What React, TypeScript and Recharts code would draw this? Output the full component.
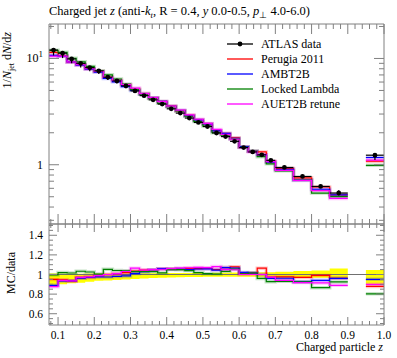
import { ComposedChart, Line, Scatter, ErrorBar, Area, XAxis, YAxis, ReferenceLine } from 'recharts'

const W = 397
const H = 358
const FRAME = '#808080'
const FONT = '"Liberation Serif", serif'

// bin edges (charged particle z)
const binLo = [0.075, 0.1, 0.125, 0.15, 0.175, 0.2, 0.225, 0.25, 0.275, 0.3, 0.325, 0.35, 0.375, 0.4, 0.425, 0.45, 0.475, 0.5, 0.525, 0.55, 0.575, 0.6, 0.625, 0.65, 0.675, 0.7, 0.75, 0.8, 0.85, 0.95]
const binHi = [0.1, 0.125, 0.15, 0.175, 0.2, 0.225, 0.25, 0.275, 0.3, 0.325, 0.35, 0.375, 0.4, 0.425, 0.45, 0.475, 0.5, 0.525, 0.55, 0.575, 0.6, 0.625, 0.65, 0.675, 0.7, 0.75, 0.8, 0.85, 0.9, 1.0]

// 1/N_jet dN/dz
const atlas = [12.0, 11.2, 9.9, 9.0, 8.2, 7.63, 6.66, 6.15, 5.52, 4.95, 4.47, 4.08, 3.72, 3.36, 3.06, 2.75, 2.5, 2.29, 1.99, 1.84, 1.66, 1.45, 1.32, 1.24, 1.1, 0.943, 0.776, 0.625, 0.542, 1.23]
// data uncertainty band, relative to data
const bandLo = [0.89, 0.9, 0.91, 0.915, 0.925, 0.935, 0.94, 0.945, 0.95, 0.955, 0.96, 0.965, 0.968, 0.97, 0.972, 0.975, 0.975, 0.976, 0.976, 0.977, 0.977, 0.976, 0.976, 0.975, 0.975, 0.97, 0.968, 0.968, 0.955, 0.9]
const bandHi = [1.01, 1.008, 1.008, 1.008, 1.01, 1.01, 1.01, 1.01, 1.01, 1.012, 1.012, 1.014, 1.014, 1.015, 1.015, 1.015, 1.016, 1.016, 1.018, 1.018, 1.02, 1.02, 1.02, 1.022, 1.022, 1.028, 1.035, 1.04, 1.062, 1.045]

const perugia = [11.4, 10.58, 9.26, 8.73, 8.0, 7.55, 6.66, 6.21, 5.63, 5.12, 4.67, 4.28, 3.94, 3.56, 3.23, 2.92, 2.65, 2.43, 2.09, 1.97, 1.79, 1.47, 1.34, 1.32, 1.07, 0.92, 0.753, 0.619, 0.521, 1.08]
const ambt2b = [10.68, 10.47, 9.26, 8.66, 7.95, 7.44, 6.49, 6.03, 5.44, 5.0, 4.6, 4.28, 3.94, 3.54, 3.24, 2.89, 2.64, 2.42, 2.08, 1.97, 1.77, 1.48, 1.34, 1.24, 1.056, 0.907, 0.718, 0.588, 0.521, 1.17]
const lockedLambda = [11.94, 11.42, 10.05, 9.3, 8.41, 7.67, 7.01, 6.4, 5.73, 5.1, 4.6, 4.2, 3.78, 3.53, 3.21, 2.86, 2.55, 2.31, 2.0, 1.9, 1.75, 1.46, 1.34, 1.19, 1.02, 0.877, 0.718, 0.541, 0.501, 0.988]
const auet2b = [10.51, 10.53, 9.26, 8.73, 8.0, 7.55, 6.66, 6.21, 5.69, 5.27, 4.67, 4.28, 3.92, 3.56, 3.26, 2.94, 2.68, 2.45, 2.15, 1.93, 1.74, 1.45, 1.32, 1.24, 1.07, 0.886, 0.712, 0.571, 0.482, 1.107]

const series = [
  { key: 'perugia', name: 'Perugia 2011', color: '#ff0000', values: perugia },
  { key: 'ambt2b', name: 'AMBT2B', color: '#0000ff', values: ambt2b },
  { key: 'locked', name: 'Locked Lambda', color: '#008000', values: lockedLambda },
  { key: 'auet2b', name: 'AUET2B retune', color: '#ff00ff', values: auet2b },
]

const xMajor = [0.1, 0.2, 0.3, 0.4, 0.5, 0.6, 0.7, 0.8, 0.9, 1.0]
const xLabels = ['0.1', '0.2', '0.3', '0.4', '0.5', '0.6', '0.7', '0.8', '0.9', '1.0']
const logTicks = [0.3, 0.4, 0.5, 0.6, 0.7, 0.8, 0.9, 1, 2, 3, 4, 5, 6, 7, 8, 9, 10, 20]
const ratioMajor = [0.6, 0.8, 1, 1.2, 1.4]
const ratioLabels = ['0.6', '0.8', '1', '1.2', '1.4']

const xTicks: number[] = []
for (let k = 4; k <= 50; k++) xTicks.push(Math.round(k * 0.02 * 100) / 100)
const ratioTicks: number[] = []
for (let k = 10; k <= 30; k++) ratioTicks.push(Math.round(k * 0.05 * 100) / 100)

// histogram rows for stepAfter lines, with a break where bins are not adjacent
function stepRows(cols: Record<string, any[]>) {
  const rows: any[] = []
  const keys = Object.keys(cols)
  for (let i = 0; i < binLo.length; i++) {
    const row: any = { x: binLo[i] }
    keys.forEach((k) => (row[k] = cols[k][i]))
    rows.push(row)
    const last = i === binLo.length - 1
    if (last || binLo[i + 1] !== binHi[i]) {
      rows.push({ ...row, x: binHi[i] })
      if (!last) {
        const gap: any = { x: binHi[i] }
        keys.forEach((k) => (gap[k] = null))
        rows.push(gap)
      }
    }
  }
  return rows
}

const topCols: Record<string, any[]> = {}
series.forEach((s) => (topCols[s.key] = s.values))
const topRows = stepRows(topCols)

const ratioCols: Record<string, any[]> = { band: bandLo.map((lo, i) => [lo, bandHi[i]]) }
series.forEach((s) => (ratioCols[s.key] = s.values.map((v, i) => v / atlas[i])))
const ratioRows = stepRows(ratioCols)

const points = atlas.map((v, i) => ({
  x: (binLo[i] + binHi[i]) / 2,
  y: v,
  ex: (binHi[i] - binLo[i]) / 2,
  ey: [v * (1 - bandLo[i]), v * (bandHi[i] - 1)],
}))

const isMajor = (v: number, majors: number[]) => majors.some((m) => Math.abs(m - v) < 1e-6)

const txt = { fontFamily: FONT, fontSize: 12, fill: '#000' }

function xTick(side: 'top' | 'bottom', major: number, minor: number, labels: boolean) {
  return (p: any) => {
    const v = p.payload.value
    const big = isMajor(v, xMajor)
    const len = big ? major : minor
    const dir = side === 'bottom' ? -1 : 1
    const idx = xMajor.findIndex((m) => Math.abs(m - v) < 1e-6)
    return (
      <g>
        <line x1={p.x} x2={p.x} y1={p.y} y2={p.y + dir * len} stroke={FRAME} strokeWidth={1} />
        {labels && big && (
          <text x={p.x} y={p.y + 14} textAnchor="middle" {...txt} fontSize={11.5}>
            {xLabels[idx]}
          </text>
        )}
      </g>
    )
  }
}

function logTick(side: 'left' | 'right') {
  return (p: any) => {
    const v = p.payload.value
    const big = v === 1 || v === 10
    const len = big ? 10 : 5
    const dir = side === 'left' ? 1 : -1
    return (
      <g>
        <line x1={p.x} x2={p.x + dir * len} y1={p.y} y2={p.y} stroke={FRAME} strokeWidth={1} />
        {side === 'left' && v === 1 && (
          <text x={p.x - 6} y={p.y + 4} textAnchor="end" {...txt}>1</text>
        )}
        {side === 'left' && v === 10 && (
          <text x={p.x - 6} y={p.y + 4} textAnchor="end" {...txt}>
            10<tspan dy={-5} fontSize={9}>1</tspan>
          </text>
        )}
      </g>
    )
  }
}

function ratioTick(side: 'left' | 'right') {
  return (p: any) => {
    const v = p.payload.value
    const idx = ratioMajor.findIndex((m) => Math.abs(m - v) < 1e-6)
    const len = idx >= 0 ? 8 : 4
    const dir = side === 'left' ? 1 : -1
    return (
      <g>
        <line x1={p.x} x2={p.x + dir * len} y1={p.y} y2={p.y} stroke={FRAME} strokeWidth={1} />
        {side === 'left' && idx >= 0 && (
          <text x={p.x - 6} y={p.y + 4} textAnchor="end" {...txt} fontSize={11.5}>{ratioLabels[idx]}</text>
        )}
      </g>
    )
  }
}

const axisCommon = { tickSize: 0, tickMargin: 0, tickLine: false, interval: 0 as const, allowDataOverflow: true, axisLine: { stroke: FRAME } }

function dataDot(p: any) {
  return <circle cx={p.cx} cy={p.cy} r={2.4} fill="#000" />
}

// MC curves: pale halo (stat. band look) under a solid step line
function mcLines() {
  return [
    ...series.map((s) => (
      <Line key={s.key + '-halo'} xAxisId="b" yAxisId="l" dataKey={s.key} type="stepAfter" stroke={s.color} strokeOpacity={0.22} strokeWidth={3.5} dot={false} activeDot={false} legendType="none" isAnimationActive={false} />
    )),
    ...series.map((s) => (
      <Line key={s.key} xAxisId="b" yAxisId="l" dataKey={s.key} name={s.name} type="stepAfter" stroke={s.color} strokeWidth={1.2} dot={false} isAnimationActive={false} />
    )),
  ]
}

function Annotations() {
  const legendRows = [{ name: 'ATLAS data', color: '#000', dot: true }, ...series.map((s) => ({ name: s.name, color: s.color, dot: false }))]
  return (
    <svg width={W} height={H} style={{ position: 'absolute', left: 0, top: 0, pointerEvents: 'none' }}>
      <text x={49} y={15} {...txt} fontSize={12.5}>
        Charged jet <tspan fontStyle="italic">z</tspan> (anti-<tspan fontStyle="italic">k</tspan>
        <tspan dy={3} fontSize={8.5} fontStyle="italic">t</tspan>
        <tspan dy={-3}>, R = 0.4, </tspan>
        <tspan fontStyle="italic">y</tspan> 0.0-0.5, <tspan fontStyle="italic">p</tspan>
        <tspan dy={3} fontSize={8.5}>⊥</tspan>
        <tspan dy={-3}> 4.0-6.0)</tspan>
      </text>
      <text transform="rotate(-90 11 32)" x={11} y={32} textAnchor="end" {...txt}>
        1/<tspan fontStyle="italic">N</tspan>
        <tspan dy={3} fontSize={8}>jet</tspan>
        <tspan dy={-3}> d</tspan>
        <tspan fontStyle="italic">N</tspan>/d<tspan fontStyle="italic">z</tspan>
      </text>
      <text transform="rotate(-90 15 273)" x={15} y={273} textAnchor="middle" {...txt}>
        MC/data
      </text>
      <text x={383} y={351} textAnchor="end" {...txt}>
        Charged particle <tspan fontStyle="italic">z</tspan>
      </text>
      {legendRows.map((r, i) => {
        const cy = 44 + i * 15
        return (
          <g key={r.name}>
            <line x1={227} x2={253} y1={cy} y2={cy} stroke={r.color} strokeWidth={1.3} />
            {r.dot && <circle cx={240} cy={cy} r={2.4} fill="#000" />}
            <text x={261} y={cy + 4} {...txt}>{r.name}</text>
          </g>
        )
      })}
    </svg>
  )
}

export default function App() {
  return (
    <div style={{ position: 'absolute', left: 0, top: 0, width: W, height: H, background: '#fff' }}>
      <div style={{ position: 'absolute', left: 0, top: 0 }}>
        <ComposedChart width={W} height={H} data={topRows} margin={{ top: 23, right: 12, bottom: 133, left: 48 }}>
          <XAxis xAxisId="b" dataKey="x" type="number" domain={[0.075, 1]} ticks={xTicks} height={1} tick={xTick('bottom', 10, 5, false)} {...axisCommon} />
          <XAxis xAxisId="t" orientation="top" dataKey="x" type="number" domain={[0.075, 1]} ticks={xTicks} height={1} tick={xTick('top', 10, 5, false)} {...axisCommon} />
          <YAxis yAxisId="l" type="number" scale="log" domain={[0.277, 21.1]} ticks={logTicks} width={1} tick={logTick('left')} {...axisCommon} />
          <YAxis yAxisId="r" orientation="right" type="number" scale="log" domain={[0.277, 21.1]} ticks={logTicks} width={1} tick={logTick('right')} {...axisCommon} />
          {mcLines()}
          <Scatter xAxisId="b" yAxisId="l" data={points} dataKey="y" shape={dataDot} isAnimationActive={false}>
            <ErrorBar dataKey="ey" direction="y" width={0} stroke="#000" strokeWidth={1.2} isAnimationActive={false} />
            <ErrorBar dataKey="ex" direction="x" width={0} stroke="#000" strokeWidth={1.2} isAnimationActive={false} />
          </Scatter>
        </ComposedChart>
      </div>
      <div style={{ position: 'absolute', left: 0, top: 0 }}>
        <ComposedChart width={W} height={H} data={ratioRows} margin={{ top: 223, right: 12, bottom: 32, left: 48 }}>
          <XAxis xAxisId="b" dataKey="x" type="number" domain={[0.075, 1]} ticks={xTicks} height={1} tick={xTick('bottom', 8, 4, true)} {...axisCommon} />
          <XAxis xAxisId="t" orientation="top" dataKey="x" type="number" domain={[0.075, 1]} ticks={xTicks} height={1} tick={xTick('top', 8, 4, false)} {...axisCommon} />
          <YAxis yAxisId="l" type="number" domain={[0.485, 1.515]} ticks={ratioTicks} width={1} tick={ratioTick('left')} {...axisCommon} />
          <YAxis yAxisId="r" orientation="right" type="number" domain={[0.485, 1.515]} ticks={ratioTicks} width={1} tick={ratioTick('right')} {...axisCommon} />
          <Area xAxisId="b" yAxisId="l" dataKey="band" type="stepAfter" fill="#ffff00" fillOpacity={1} stroke="none" isAnimationActive={false} />
          <ReferenceLine xAxisId="b" yAxisId="l" y={1} stroke="#707070" strokeWidth={1} />
          {mcLines()}
        </ComposedChart>
      </div>
      <Annotations />
    </div>
  )
}
